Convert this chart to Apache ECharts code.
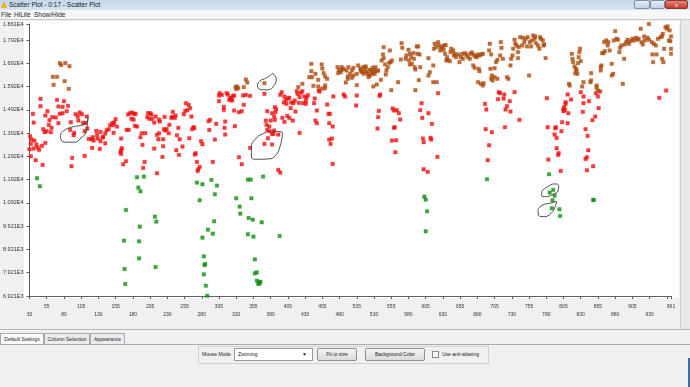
<!DOCTYPE html>
<html>
<head>
<meta charset="utf-8">
<script src="https://cdn.jsdelivr.net/npm/echarts@6/dist/echarts.min.js"></script>
<style>
  html, body { margin:0; padding:0; }
  body { width:690px; height:387px; overflow:hidden; background:#f0f0f0; position:relative; font-family:"Liberation Sans", Arial, sans-serif; color:#222; }
  .abs { position:absolute; box-sizing:border-box; }
  #title { left:0; top:0; width:690px; height:10px; background:linear-gradient(#c3d6ec,#d5e4f3); }
  #title span { position:absolute; left:9px; top:1px; font-size:6.5px; line-height:8px; }
  #icon { left:1px; top:1px; width:0; height:0; border-left:3px solid transparent; border-right:3px solid transparent; border-bottom:7px solid #e8b400; }
  #menu { left:0; top:10px; width:690px; height:10px; background:#f7f7f7; border-bottom:1px solid #c8c8c8; }
  #menu span { position:absolute; top:1px; font-size:6.5px; line-height:8px; }
  #plotbg { left:24px; top:21px; width:655px; height:277px; background:#fff; }
  #rightbar { left:680px; top:20px; width:10px; height:310px; background:#e9e9e9; border-left:1px solid #cfcfcf; }
  #sep { left:0; top:329px; width:690px; height:1px; background:#b9b9b9; }
  .tab { top:333px; height:11px; border:1px solid #a9a9a9; border-bottom:none; background:#ececec; font-size:5px; line-height:10px; text-align:center; }
  #tabpanel { left:0; top:344px; width:690px; height:42px; border-top:1px solid #a9a9a9; background:#f0f0f0; }
  #group { left:198px; top:346px; width:291px; height:18px; border:1px solid #d0d0d0; }
  .lbl { font-size:5px; line-height:8px; white-space:nowrap; }
  .btn { top:348px; height:13px; border:1px solid #8e8e8e; border-radius:2px; background:linear-gradient(#f4f4f4,#dcdcdc); font-size:5px; line-height:11px; text-align:center; }
  #combo { left:234px; top:348px; width:79px; height:13px; border:1px solid #9a9a9a; background:#fff; font-size:5px; line-height:11px; padding-left:3px; }
  #chk { left:432px; top:351px; width:7px; height:7px; border:1px solid #8a8a8a; background:#fafafa; }
  #winbtns { left:634px; top:0; width:54px; height:9px; }
  #edge { left:688px; top:358px; width:2px; height:29px; background:#3b6ea5; }
  #chart { left:0; top:0; width:690px; height:387px; }
</style>
</head>
<body>
<div class="abs" id="title"><div class="abs" id="icon"></div><span>Scatter Plot - 0:17 - Scatter Plot</span></div>
<div class="abs" id="winbtns">
  <div class="abs" style="left:0;top:0;width:16px;height:9px;border:1px solid #7f8fa6;border-radius:2px;background:linear-gradient(#e6eef8,#c4d3e6);"></div>
  <div class="abs" style="left:16px;top:0;width:15px;height:9px;border:1px solid #7f8fa6;border-radius:2px;background:linear-gradient(#e6eef8,#c4d3e6);"></div>
  <div class="abs" style="left:31px;top:0;width:23px;height:9px;border:1px solid #8a3a30;border-radius:2px;background:linear-gradient(#e8857a,#c8392c);color:#fff;font-size:6px;line-height:8px;text-align:center;">x</div>
</div>
<div class="abs" id="menu"><span style="left:1px">File</span><span style="left:14px">HiLite</span><span style="left:34px">Show/Hide</span></div>
<div class="abs" id="plotbg"></div>
<div class="abs" id="rightbar"></div>
<div class="abs" id="sep"></div>
<div class="abs" id="tabpanel"></div>
<div class="abs tab" style="left:0;width:44px;background:#fafafa;">Default Settings</div>
<div class="abs tab" style="left:44px;width:46px;">Column Selection</div>
<div class="abs tab" style="left:90px;width:35px;">Appearance</div>
<div class="abs" id="group"></div>
<div class="abs lbl" style="left:202px;top:350px;">Mouse Mode</div>
<div class="abs" id="combo">Zooming<span style="position:absolute;right:5px;top:0;font-size:5px;">&#9660;</span></div>
<div class="abs btn" style="left:317px;width:40px;">Fit to size</div>
<div class="abs btn" style="left:365px;width:60px;">Background Color</div>
<div class="abs" id="chk"></div>
<div class="abs lbl" style="left:442px;top:350px;">Use anti-aliasing</div>
<div class="abs" id="edge"></div>
<div class="abs" id="chart"></div>
<script>
// ---- axis ranges and tick labels ----
const xMin = 30, xMax = 961, xStep = 25;
const yMin = 6921, yMax = 18610, yStep = 1000;
const hiddenXLabels = [955];

// ---- data: [x, value] ----
const redPoints = [
[46,15394],[46,15078],[35,14748],[36,14375],[56,14863],[53,14677],[59,14476],[58,14275],[50,14089],[55,14003],[61,13960],[52,13960],[63,14605],[68,14591],[70,15350],[72,15064],[78,15049],[80,15293],[86,15093],[84,14863],[78,14777],[74,14748],[72,14347],[62,14146],[31,13787],[33,13644],[37,13601],[32,13458],[40,13429],[30,13228],[36,13257],[42,13300],[44,13200],[48,13372],[53,13500],[32,12927],[39,12755],[49,12554],[90,14390],[97,14734],[100,14634],[103,14806],[106,14734],[101,14461],[108,14361],[111,14361],[113,14634],[89,14060],[95,13931],[94,13831],[110,14003],[114,14117],[116,13673],[120,13658],[123,13601],[122,13744],[127,14017],[128,13845],[129,13687],[133,13974],[133,13572],[137,13759],[140,13902],[136,13730],[142,14046],[145,14089],[147,14261],[150,14347],[153,14375],[155,14519],[151,14261],[157,14203],[152,13931],[140,13486],[132,13242],[121,13285],[110,12941],[92,12855],[91,12497],[163,13687],[164,13271],[163,13200],[162,13099],[163,13027],[171,14060],[174,14060],[173,14720],[176,14777],[179,14806],[182,14748],[184,14748],[178,14533],[181,14504],[183,14232],[186,14203],[193,13917],[198,13917],[191,13744],[194,13415],[197,12683],[195,12425],[170,12712],[166,12583],[202,14777],[205,14777],[207,14720],[201,14605],[204,14533],[208,14533],[211,14375],[218,14504],[219,14418],[213,14634],[226,14619],[227,14031],[229,14089],[225,14089],[232,13917],[233,14275],[238,14834],[237,14619],[241,14576],[236,14576],[242,14677],[246,14146],[244,13831],[248,13658],[252,13343],[243,13185],[247,12984],[224,13357],[218,13917],[223,12898],[211,13257],[215,12196],[217,13658],[224,13658],[215,13845],[254,14734],[256,14877],[257,15207],[261,15135],[259,14906],[263,14992],[262,13701],
[306,15637],[305,15537],[309,15566],[316,15637],[318,15580],[321,15437],[323,15379],[325,15508],[327,15537],[320,15350],[324,15322],[305,15293],[312,15049],[312,14920],[327,14892],[334,14820],[338,14863],[341,15135],[340,15537],[344,15566],[350,15522],
[265,14634],[268,14175],[269,14132],[266,14089],[291,14060],[290,14433],[292,14490],[301,14318],[314,14418],[313,14146],[328,14218],[314,13859],[299,13644],[279,13572],[281,13443],[271,13056],[270,12999],[273,12683],[275,12368],[277,12468],[274,12296],[296,12683],[334,12884],[338,12583],
[371,15609],[396,15680],[394,15566],[400,15494],[402,15350],[405,15408],[399,15236],[403,15178],[407,15437],[410,15236],[409,14992],[413,15207],[419,15609],[418,15723],[424,15652],[426,15723],[422,15465],[429,15494],[431,15293],[427,15207],[432,15437],[431,15178],[434,15551],[415,15322],[421,15221],[444,15408],[443,15207],[450,15752],[447,14892],[451,15709],
[386,15035],[388,14949],[387,14820],[382,14777],[375,14863],[373,14461],[380,14461],[386,14490],[397,14576],[400,14404],[404,14662],[407,14576],[412,14461],[416,14849],[385,14634],
[374,14275],[378,14203],[375,14060],[379,14003],[382,13888],[384,13888],[385,14031],[391,13859],[376,13701],[382,13429],[371,13458],[350,13285],[391,12339],[394,12224],[422,13931],[466,14748],[465,14347],[470,14203],[445,14461],[447,14347],[465,13644],[467,13458],[469,13687],[470,12597],[486,15580],[488,15494],[462,15150],[464,14748],[471,15494],
[505,15537],[504,15107],[539,15580],[538,15522],[537,14877],[536,14605],[535,14117],[557,14978],[559,14892],[563,14906],[566,14777],[568,14504],[560,14175],[559,14146],[556,13601],[562,13615],[561,13099],[599,15207],[597,14906],[609,14777],[600,14576],[614,14318],[601,13687],[602,13529],[612,13716],[613,13644],[622,12898],[602,12368],[608,12253],[623,15637],[691,15178],[693,14935],[692,14089],[701,13960],[697,13400],[695,12755],[711,15680],[713,15637],[710,15379],[719,15580],[718,15408],[727,15293],[723,15078],[721,14935],[728,14849],[720,14175],[734,15680],[741,14490],
[781,15422],[811,15580],[816,15365],[808,15250],[808,15178],[806,15035],[805,14949],[807,14920],[805,14863],[812,14777],[803,14390],[811,14347],[782,14175],[793,14132],[794,14175],[792,13859],[795,13716],[802,14003],[795,13271],[798,13056],[797,12984],[783,12784],[801,12296],[830,15680],[834,15494],[834,15207],[842,15293],[833,14834],[852,15637],[858,15709],[855,15494],[856,14992],[851,14634],[847,14476],[837,14089],[840,13802],[841,13185],[839,12884],[837,12812],[848,12497],[839,12325],[944,15437],[954,15752]
];

const brownPoints = [
[74,16928],[76,16842],[82,16928],[88,16799],[64,16340],[70,16340],[65,15996],[81,16154],[87,15824],
[344,16225],[346,16096],[329,15896],[331,15924],[333,15853],[330,15810],[341,15896],[371,16068],
[439,16899],[454,16871],[455,16698],[439,16584],[436,16326],[440,16326],[445,16469],[457,16498],[459,16354],[462,16254],[449,16211],[442,15953],[449,15924],[459,15967],[459,15852],[455,15838],[420,15896],[426,16039],
[477,16756],[483,16756],[479,16612],[483,16641],[486,16684],[478,16498],[482,16541],[490,16612],[493,16756],[495,16469],[498,16612],[500,16727],[500,16397],[492,16354],[489,16096],[492,16254],[498,16297],
[507,16828],[511,16612],[514,16756],[516,16584],[518,16785],[519,16541],[521,16469],[523,16641],[524,16397],[526,16612],[528,16727],[529,16541],[530,16641],[532,16756],[534,16584],[531,16469],[522,16326],[517,16727],[510,16684],[505,16469],[515,16469],[527,16469],[536,16612],[512,16541],
[529,15924],[534,16010],[540,16211],[547,16440],[548,16612],[550,16756],[552,16942],[554,16971],[541,17043],[544,17143],[543,17301],[544,17616],[553,17473],[546,16871],[556,17043],
[505,15982],[555,15766],[565,16110],
[569,17086],[571,17588],[570,17788],[576,17114],[577,17258],[580,17502],[582,17329],[581,17043],[584,17186],[587,17358],[588,17114],[592,17645],[594,17645],[593,17329],[596,17301],[585,16899],[589,16756],[582,16871],[590,16655],
[590,15766],[597,16756],[595,16197],
[609,17143],[611,16541],[609,16397],[616,16828],[616,16110],[621,16110],[618,17760],[617,17545],[620,17616],[623,17831],[624,17688],[627,17588],[629,17645],[631,17502],[632,17688],[634,17702],[626,17473],[633,17329],[636,17186],[635,17043],[637,17071],[640,17014],[642,17545],[641,17401],[645,17473],[646,17258],[647,17329],[649,17186],[652,17301],[654,16971],[656,17186],[658,17329],[659,17114],[662,17358],[664,17287],[666,17186],[669,17114],[670,17329],[672,17387],[675,17287],[677,17215],[679,17186],[681,17301],[683,17258],[686,17301],[688,17329],
[674,16828],[676,16727],[682,16684],[683,16584],[681,16110],[685,16039],[688,15967],[689,16068],[699,16684],[701,16397],[700,16254],[702,16182],[705,16326],[709,16254],[707,16971],[709,17071],[705,16713],[698,17760],[697,17473],[700,17301],[713,17258],[714,17831],[715,17588],[717,17114],[723,16326],[725,16254],[728,16828],[729,17114],[731,17258],[732,17545],[734,17932],[735,17760],[737,17688],[739,17401],[739,17143],[740,17616],
[742,18046],[746,18018],[750,17975],[753,18046],[756,17831],[759,17903],[761,18118],[763,17975],[765,17788],[768,17688],[770,17545],[772,17975],[775,17903],[777,17731],[758,17645],[752,17645],[745,17688],[748,17831],[764,18075],[771,18046],[776,17688],
[779,17143],[755,16397],
[817,17329],[818,17114],[819,16971],[821,16785],[823,16684],[822,16498],[825,16469],[824,16612],[827,17186],[828,17401],[829,17545],[826,16928],[830,17014],[813,16039],[814,15967],[834,16110],[832,15924],[844,16110],[845,16182],[845,16498],[853,15967],[853,15867],[855,15752],[859,16756],[860,16828],[859,16612],[861,17358],[864,17831],[867,17903],[870,17831],[869,17688],[865,17444],[863,17358],[872,17473],[875,16899],[877,16469],[875,16397],[880,18304],[884,17932],[882,17975],[878,17903],[886,17401],[887,17588],[889,17688],[893,17114],[891,16039],[894,17731],[896,17831],[898,17932],[900,17760],[902,17874],[905,17975],[907,17903],[910,18018],[912,17932],[914,17975],[917,18405],[918,17831],[920,17731],[922,18075],[923,17903],[927,18018],[929,18610],[929,17932],[933,17831],[934,17301],[935,16971],[936,17760],[939,17688],[940,17301],[942,17975],[946,18046],[948,18075],[949,18190],[950,16971],[948,17114],[951,17545],[953,18477],[955,18405],[956,18505],[958,17903],[959,18333],[960,17874],[961,18075],[961,17545],[961,17329]
];

const greenPoints = [
[41,11981],[45,11637],[186,12024],[196,12052],[188,11579],[191,11421],[170,10618],[212,10332],[214,10117],[190,9901],[167,9299],[189,9270],[189,8539],[168,8080],[213,8166],[169,7435],
[273,11794],[281,11722],[294,11909],[302,11665],[299,11292],[277,11034],[347,11923],[351,11923],[369,12052],[330,11120],[352,11120],[335,10762],[336,10460],[348,10274],[354,10202],[367,10088],[393,9500],[347,9572],[355,9471],[298,10131],[289,9772],[296,9600],[281,9428],[283,8625],[285,8295],[284,8252],[283,7851],[286,7364],[288,6933],[357,8496],[357,7894],[360,7937],[360,7578],[363,7507],[365,7535],[362,7435],[364,7464],
[603,11192],[605,11063],[607,10561],[605,9701],[694,11938],
[784,12153],[790,11479],[785,11364],[792,11235],[789,11034],[788,10690],[799,10647],[800,10360],[848,11048],[849,11048]
];

// hand-drawn annotation loops (in data coordinates)
const loops = [
  [[115,14634],[114,14318],[112,13960],[105,13716],[95,13529],[83,13529],[76,13630],[75,13816],[80,14031],[91,14175],[103,14246],[111,14318],[115,14533]],
  [[382,16498],[388,16283],[385,15967],[375,15781],[365,15795],[361,15967],[364,16154],[374,16297],[382,16469]],
  [[382,14003],[397,13945],[394,13386],[387,12956],[377,12812],[360,12798],[352,12884],[352,13314],[358,13673],[368,13888],[380,14003]],
  [[774,11450],[782,11622],[792,11737],[798,11665],[797,11450],[789,11278],[780,11192],[773,11235],[774,11450]],
  [[768,10661],[775,10833],[787,10919],[795,10991],[793,10762],[787,10475],[777,10332],[769,10375],[768,10661]]
];

const shift = p => [p[0] - xMin, p[1] - yMin];
const fmtY = v => (v + yMin).toExponential(3).replace('e+', 'E');
const fmtX = v => {
  const val = v + xMin;
  if (hiddenXLabels.indexOf(val) >= 0) return '';
  const onGrid = Math.abs(v / xStep - Math.round(v / xStep)) < 1e-9;
  const lower = onGrid && Math.round(v / xStep) % 2 === 0;
  return lower ? '\n' + val : String(val);
};

const chart = echarts.init(document.getElementById('chart'), null, {renderer: 'canvas'});
const scatter = (name, pts, color) => ({
  name, type: 'scatter', data: pts.map(shift), symbol: 'rect', symbolSize: 3.5,
  itemStyle: { color, borderColor: color, borderWidth: 0.4 }, silent: true, z: 3
});
const series = [
  scatter('red', redPoints, '#f20d0d'),
  scatter('brown', brownPoints, '#ad4a0c'),
  scatter('green', greenPoints, '#108f10')
];
loops.forEach(l => series.push({
  type: 'line', data: l.map(shift), smooth: 0.5, symbol: 'none', silent: true, z: 4,
  lineStyle: { color: '#3a3a3a', width: 0.9 }
}));

chart.setOption({
  animation: false,
  backgroundColor: 'transparent',
  grid: { left: 27, right: 19, top: 24, bottom: 91, containLabel: false },
  xAxis: {
    type: 'value', min: 0, max: xMax - xMin, interval: xStep, offset: 3,
    axisLine: { lineStyle: { color: '#606060', width: 1 } },
    axisTick: { length: 3, lineStyle: { color: '#606060' } },
    splitLine: { show: false },
    axisLabel: { fontSize: 5, color: '#333', margin: 4, lineHeight: 8, formatter: fmtX, fontFamily: 'Liberation Sans' }
  },
  yAxis: {
    type: 'value', min: 0, max: yMax - yMin, interval: yStep, offset: 4,
    axisLine: { show: true, lineStyle: { color: '#606060', width: 1 } },
    axisTick: { show: true, length: 3, lineStyle: { color: '#606060' } },
    splitLine: { show: false },
    axisLabel: { fontSize: 5.5, color: '#333', margin: 2, formatter: fmtY, fontFamily: 'Liberation Sans' }
  },
  series
});
</script>
</body>
</html>
